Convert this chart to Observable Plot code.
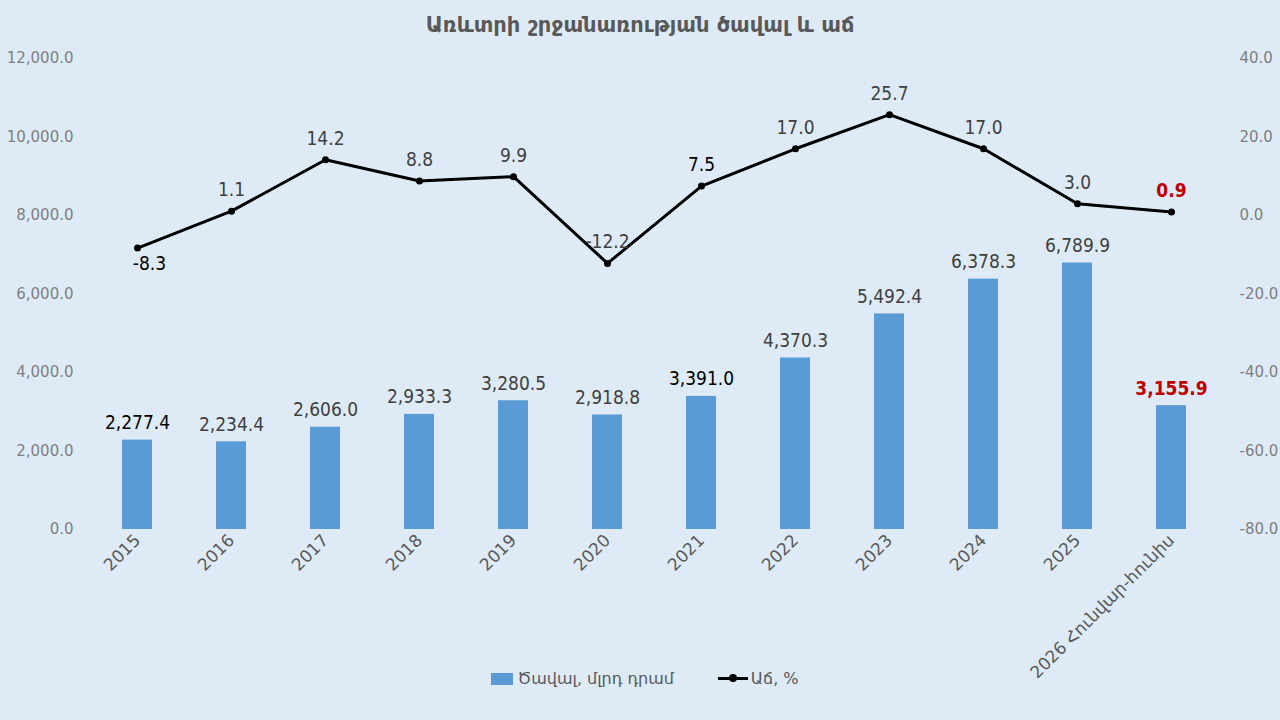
<!DOCTYPE html>
<html><head><meta charset="utf-8">
<script src="https://cdn.jsdelivr.net/npm/d3@7"></script>
<script src="https://cdn.jsdelivr.net/npm/@observablehq/plot@0.6"></script>
<style>
body{margin:0;background:#deebf7;}
#wrap{position:relative;width:1280px;height:720px;overflow:hidden;background:#deebf7;}
#title{position:absolute;top:13px;left:0;width:1280px;text-align:center;font-family:"DejaVu Sans",sans-serif;font-weight:bold;font-size:21px;color:#595959;}
#legend{position:absolute;top:669px;left:0;width:1280px;display:flex;justify-content:center;align-items:center;font-family:"DejaVu Sans",sans-serif;font-size:16px;color:#595959;padding-left:10px;box-sizing:border-box;}
.sw{display:inline-block;width:22px;height:12px;background:#5b9bd5;margin-right:4px;}
.li{display:inline-block;position:relative;width:30px;height:3px;background:#000;margin-right:3px;margin-left:44px;}
.li::after{content:"";position:absolute;left:11px;top:-3px;width:8px;height:8px;border-radius:50%;background:#000;}
#chart{position:absolute;top:0;left:0;}
</style>
</head><body>
<div id="wrap">
<div id="title">Առևտրի շրջանառության ծավալ և աճ</div>
<div id="chart"></div>
<div id="legend"><span class="sw"></span><span>Ծավալ, մլրդ դրամ</span><span class="li"></span><span>Աճ, %</span></div>
</div>
<script>
const categories = ["2015","2016","2017","2018","2019","2020","2021","2022","2023","2024","2025","2026 Հունվար-հունիս"];
const volume = [2277.4, 2234.4, 2606.0, 2933.3, 3280.5, 2918.8, 3391.0, 4370.3, 5492.4, 6378.3, 6789.9, 3155.9];
const growth = [-8.3, 1.1, 14.2, 8.8, 9.9, -12.2, 7.5, 17.0, 25.7, 17.0, 3.0, 0.9];
const leftTicks = [0, 2000, 4000, 6000, 8000, 10000, 12000];
const rightTicks = [-80, -60, -40, -20, 0, 20, 40];

// map right-axis (growth %) domain [-80, 40] onto left domain [0, 12000]
const toLeft = g => (g + 80) * 100;
const fromLeft = v => v / 100 - 80;

const rows = categories.map((c, i) => ({cat: c, vol: volume[i], gr: growth[i], i}));
const last = rows.length - 1;
const blackIdx = new Set([0, 6]);

const labelFont = '"Liberation Sans Narrow","DejaVu Sans Condensed","Arial Narrow",sans-serif';
const fmtV = d3.format(",.1f");

const normal = rows.filter(d => d.i !== last);
const lastRow = rows.filter(d => d.i === last);
const grAbove = normal.filter(d => d.i !== 0);
const grBelow = normal.filter(d => d.i === 0);
const col = d => blackIdx.has(d.i) ? "#000" : "#404040";

const plot = Plot.plot({
  width: 1280,
  height: 720,
  marginTop: 58,
  marginBottom: 191,
  marginLeft: 87,
  marginRight: 59,
  style: {background: "transparent", fontFamily: '"DejaVu Sans",sans-serif'},
  x: {domain: categories, paddingInner: 0.68, paddingOuter: 0.34},
  y: {domain: [0, 12000]},
  marks: [
    Plot.axisY(leftTicks, {anchor: "left", tickSize: 0, tickPadding: 14, tickFormat: fmtV, fontSize: 15, fill: "#7f7f7f", label: null}),
    Plot.axisY(rightTicks.map(toLeft), {anchor: "right", tickSize: 0, tickPadding: 18, tickFormat: d => fromLeft(d).toFixed(1), fontSize: 15, fill: "#7f7f7f", label: null}),
    Plot.axisX({tickSize: 0, tickPadding: 8, tickRotate: -45, fontSize: 17, fill: "#595959", label: null}),
    Plot.barY(rows, {x: "cat", y: "vol", fill: "#5b9bd5"}),
    Plot.line(rows, {x: "cat", y: d => toLeft(d.gr), stroke: "#000", strokeWidth: 3}),
    Plot.dot(rows, {x: "cat", y: d => toLeft(d.gr), r: 3.5, fill: "#000"}),
    Plot.text(normal, {x: "cat", y: "vol", text: d => fmtV(d.vol), dy: -17, fontSize: 19, fontFamily: labelFont, fill: col}),
    Plot.text(lastRow, {x: "cat", y: "vol", text: d => fmtV(d.vol), dy: -17, fontSize: 19, fontFamily: labelFont, fill: "#c00000", fontWeight: "bold"}),
    Plot.text(grAbove, {x: "cat", y: d => toLeft(d.gr), text: d => d.gr.toFixed(1), dy: -21, fontSize: 19, fontFamily: labelFont, fill: col}),
    Plot.text(grBelow, {x: "cat", y: d => toLeft(d.gr), text: d => d.gr.toFixed(1), dy: 16, dx: 12, fontSize: 19, fontFamily: labelFont, fill: col}),
    Plot.text(lastRow, {x: "cat", y: d => toLeft(d.gr), text: d => d.gr.toFixed(1), dy: -21, fontSize: 19, fontFamily: labelFont, fill: "#c00000", fontWeight: "bold"})
  ]
});
document.getElementById("chart").appendChild(plot);
</script>
</body></html>
